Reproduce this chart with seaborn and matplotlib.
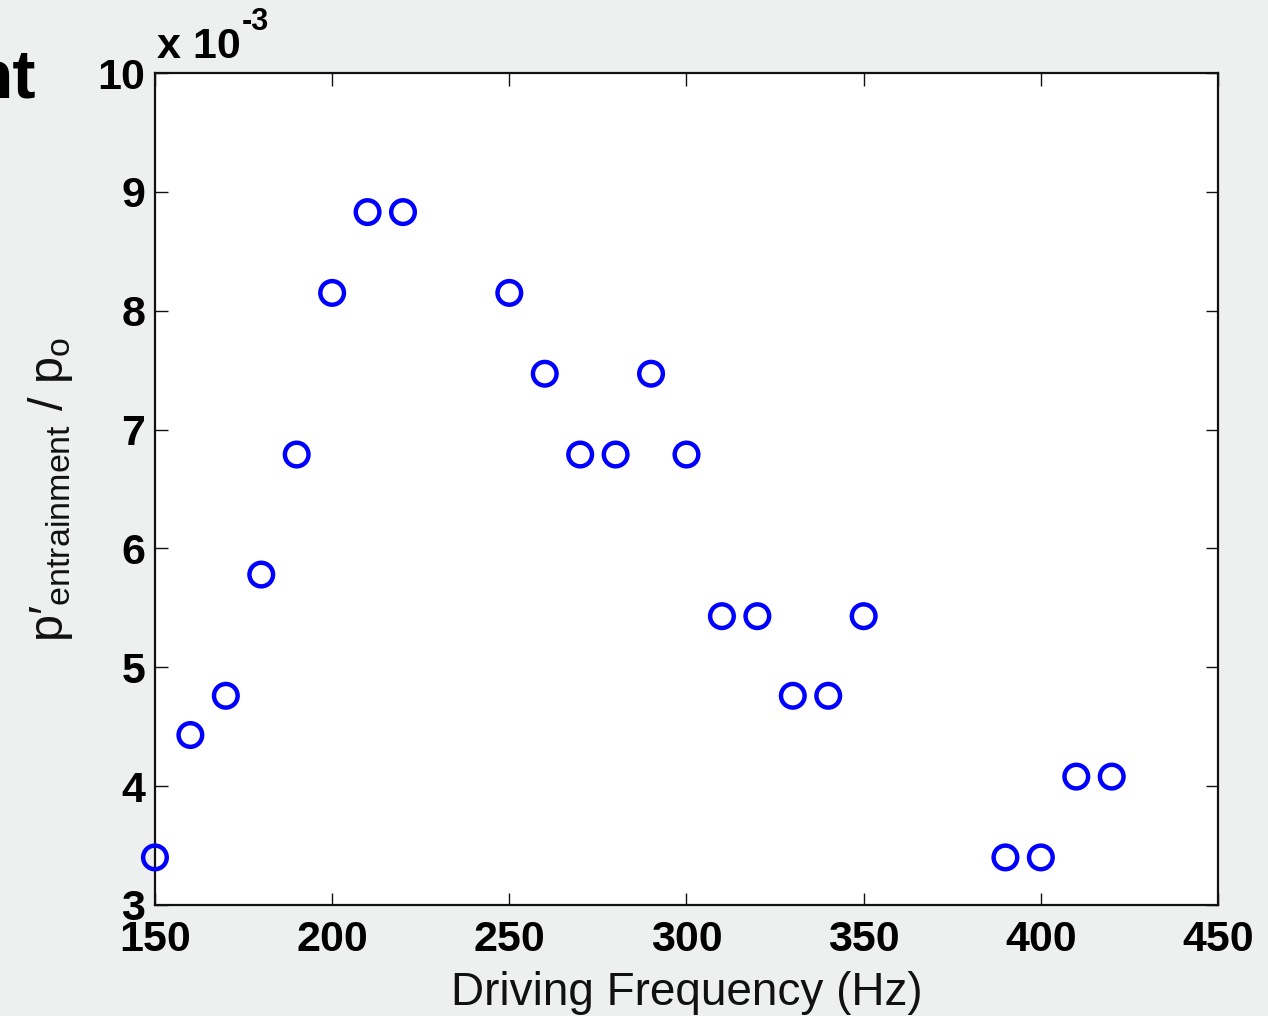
import matplotlib
matplotlib.use("Agg")
import matplotlib.pyplot as plt
import seaborn as sns
import pandas as pd

# Data (y in units of 1e-3)
freq_hz = [150, 160, 170, 180, 190, 200, 210, 220, 250, 260, 270, 280, 290,
           300, 310, 320, 330, 340, 350, 390, 400, 410, 420]
p_ratio_e3 = [3.40, 4.43, 4.76, 5.78, 6.79, 8.15, 8.83, 8.83, 8.15, 7.47, 6.79,
              6.79, 7.47, 6.79, 5.43, 5.43, 4.76, 4.76, 5.43, 3.40, 3.40, 4.08, 4.08]
x_ticks = [150, 200, 250, 300, 350, 400, 450]
y_ticks = [3, 4, 5, 6, 7, 8, 9, 10]

df = pd.DataFrame({"freq": freq_hz, "p": p_ratio_e3})

sns.set_theme(style="white")
plt.rcParams['font.family'] = ['Liberation Sans', 'DejaVu Sans']
plt.rcParams['mathtext.fontset'] = 'custom'
plt.rcParams['mathtext.rm'] = 'Liberation Sans'
plt.rcParams['mathtext.it'] = 'Liberation Sans'
plt.rcParams['mathtext.bf'] = 'Liberation Sans:bold'
plt.rcParams['text.color'] = 'black'
plt.rcParams['axes.labelcolor'] = 'black'
plt.rcParams['xtick.color'] = 'black'
plt.rcParams['ytick.color'] = 'black'

bg = '#eef0ef'
fig = plt.figure(figsize=(12.68, 10.16), dpi=100, facecolor=bg)
ax = fig.add_axes([0.1222, 0.1093, 0.9606 - 0.1222, 0.9281 - 0.1093])
ax.set_facecolor('white')

sns.scatterplot(data=df, x="freq", y="p", ax=ax, marker='o', s=289,
                facecolor='none', edgecolor='#0000ff', linewidth=3.2, zorder=5,
                clip_on=False)

ax.set_xlim(150, 450)
ax.set_ylim(3, 10)
ax.set_xticks(x_ticks)
ax.set_yticks(y_ticks)
ax.set_xticklabels([str(t) for t in x_ticks], fontsize=31, fontweight='bold')
ax.set_yticklabels([str(t) for t in y_ticks], fontsize=31, fontweight='bold')
ax.tick_params(axis='both', direction='in', length=9, width=1, color='#111111',
               top=True, right=True, bottom=True, left=True)
ax.tick_params(axis='x', pad=11)
ax.tick_params(axis='y', pad=7)
for sp in ax.spines.values():
    sp.set_visible(True)
    sp.set_color('#111111')
    sp.set_linewidth(1.6)

ax.set_xlabel('Driving Frequency (Hz)', fontsize=33, labelpad=8, color='#111111')
ax.set_ylabel(r"p′$_{\mathrm{entrainment}}$ / p$_{\mathrm{o}}$", fontsize=35,
              labelpad=16, color='#111111')

fig.text(157 / 1268, 1 - 58 / 1016, "x 10", fontsize=31,
         fontweight='bold', ha='left', va='baseline')
fig.text(242 / 1268, 1 - 30 / 1016, "-3", fontsize=22,
         fontweight='bold', ha='left', va='baseline')
fig.text(36 / 1268, 1 - 97 / 1016, "nt", fontsize=50, fontweight='bold',
         ha='right', va='baseline')

fig.savefig('out.png', dpi=100, facecolor=bg)
